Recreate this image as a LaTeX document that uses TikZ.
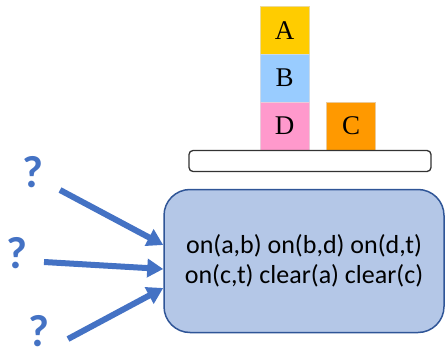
\documentclass[tikz,border=0pt]{standalone}
\usepackage{fontspec}
\setmainfont{Liberation Serif}
\newfontfamily\calib{Carlito}
\usetikzlibrary{arrows.meta}
\definecolor{cA}{HTML}{FFCC00}
\definecolor{cB}{HTML}{99CCFF}
\definecolor{cD}{HTML}{FF99CC}
\definecolor{cC}{HTML}{FF9900}
\definecolor{boxfill}{HTML}{B4C7E7}
\definecolor{boxline}{HTML}{2F5597}
\definecolor{arrowblue}{HTML}{4472C4}
\begin{document}
\begin{tikzpicture}[x=1pt,y=-1pt,
  block/.style={minimum width=49pt,minimum height=48pt,inner sep=0pt,font=\fontsize{27}{28}\selectfont},
  qmark/.style={text=arrowblue,font=\calib\bfseries\fontsize{45}{48}\selectfont,inner sep=0pt},
  bigarrow/.style={draw=arrowblue,line width=6pt,-{Triangle[length=16pt,width=18pt]}}]
\useasboundingbox (0,0) rectangle (446,358);
\node[block,fill=cA,draw=cA!80!black!40] (A) at (284.5,30.5) {A};
\node[block,fill=cB,draw=cB!80!black!40] (B) at (284.5,78) {B};
\node[block,fill=cD,draw=cD!80!black!40] (D) at (284.5,126) {D};
\node[block,fill=cC,draw=cC!80!black!40] (C) at (351,126) {C};
\node[draw=black!80,line width=1.3pt,rounded corners=4pt,minimum width=242pt,minimum height=21pt,inner sep=0pt] (T) at (310,161) {};
\node[draw=boxline,line width=1.5pt,fill=boxfill,rounded corners=26pt,minimum width=280pt,minimum height=143pt,inner sep=0pt,align=center,font=\calib\fontsize{26}{30}\selectfont] (S) at (304,261) {on(a,b) on(b,d) on(d,t)\\on(c,t) clear(a) clear(c)};
\node[qmark] (q1) at (33,172) {?};
\node[qmark] (q2) at (17,253) {?};
\node[qmark] (q3) at (39,331) {?};
\coordinate (s1) at (60,190);
\coordinate (s2) at (44,262);
\coordinate (s3) at (68,339);
\draw[bigarrow] (s1) -- (S.west |- 0,245);
\draw[bigarrow] (s2) -- (S.west |- 0,269);
\draw[bigarrow] (s3) -- (S.west |- 0,288);
\end{tikzpicture}
\end{document}
